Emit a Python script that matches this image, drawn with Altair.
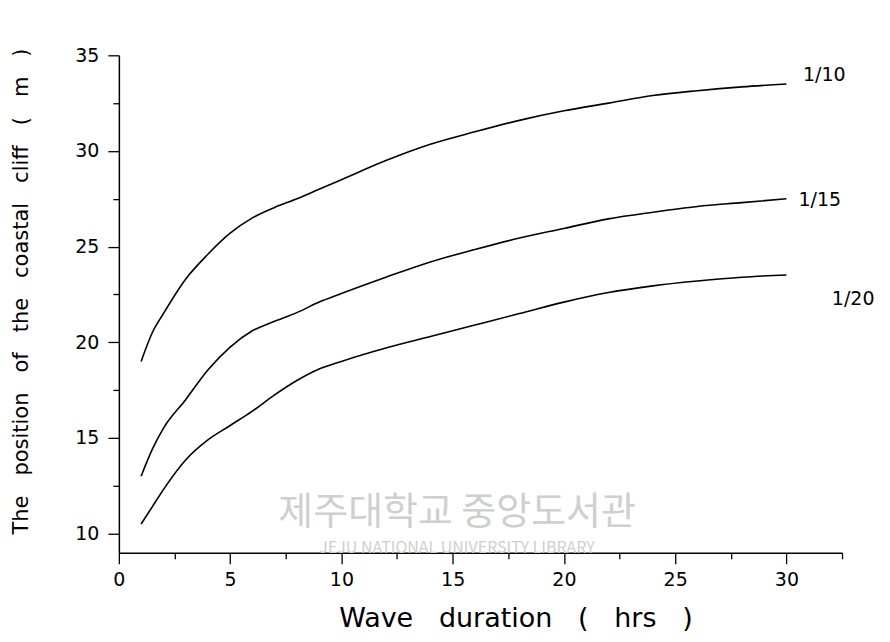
import altair as alt
import pandas as pd

# Wave duration (hrs)
hours = [1, 1.5, 2, 3, 4, 5, 6, 7, 8, 9, 10, 12, 14, 16, 18, 20, 22, 24, 26, 28, 30]
# Position of the coastal cliff (m) for each slope
slope_1_10 = [19.0, 20.5, 21.5, 23.3, 24.6, 25.7, 26.5, 27.05, 27.5, 28.0, 28.5,
              29.5, 30.35, 31.0, 31.6, 32.1, 32.5, 32.9, 33.15, 33.35, 33.5]
slope_1_15 = [13.0, 14.4, 15.5, 17.0, 18.55, 19.75, 20.6, 21.1, 21.55, 22.1, 22.55,
              23.4, 24.2, 24.85, 25.45, 25.95, 26.45, 26.8, 27.1, 27.3, 27.5]
slope_1_20 = [10.5, 11.4, 12.3, 13.85, 14.9, 15.65, 16.4, 17.25, 18.0, 18.6, 19.0,
              19.7, 20.3, 20.9, 21.5, 22.1, 22.6, 22.95, 23.2, 23.4, 23.52]

series_names = ["1/10", "1/15", "1/20"]
label_x = [31.7, 31.5, 33.0]
label_y = [33.95, 27.45, 22.25]

watermark_text = ["제주대학교 중앙도서관", "JEJU NATIONAL UNIVERSITY LIBRARY"]
watermark_x = [15.2, 15.2]
watermark_y = [11.1, 9.25]
watermark_size = [38, 16]

x_ticks = [i * 2.5 for i in range(14)]
y_ticks = [10 + i * 2.5 for i in range(11)]

NB = "\u00a0"
x_title = (NB * 3).join(["Wave", "duration", "(", "hrs", ")"])
y_title = (NB * 3).join(["The", "position", "of", "the", "coastal", "cliff", "(", "m", ")"])

rows = []
for name, vals in zip(series_names, [slope_1_10, slope_1_15, slope_1_20]):
    for h, v in zip(hours, vals):
        rows.append({"hrs": h, "pos": v, "slope": name})
df = pd.DataFrame(rows)
lab = pd.DataFrame({"hrs": label_x, "pos": label_y, "slope": series_names})
wm = pd.DataFrame({"hrs": watermark_x, "pos": watermark_y, "t": watermark_text, "s": watermark_size})

FONT = "DejaVu Sans"

xscale = alt.Scale(domain=[0, 32.5], nice=False, zero=False)
yscale = alt.Scale(domain=[9, 35], nice=False, zero=False)

tick_size = {"condition": {"test": "datum.value % 5 === 0", "value": 11}, "value": 6}

xaxis = alt.Axis(
    values=x_ticks,
    labelExpr="datum.value % 5 === 0 && datum.value <= 30 ? format(datum.value, 'd') : ''",
    tickSize=tick_size,
    labelPadding=7,
    labelFontSize=19,
    labelFont=FONT,
    labelFlush=False,
    labelOverlap=False,
    grid=False,
    title=x_title,
    titleFont=FONT,
    titleFontSize=27,
    titleFontWeight="normal",
    titleAnchor="start",
    titleAlign="center",
    titleX=397,
    titleY=74,
    titleBaseline="alphabetic",
)
yaxis = alt.Axis(
    values=y_ticks,
    labelExpr="datum.value % 5 === 0 ? format(datum.value, 'd') : ''",
    tickSize=tick_size,
    labelPadding=9,
    labelFontSize=19,
    labelFont=FONT,
    labelOverlap=False,
    grid=False,
    title=y_title,
    titleFont=FONT,
    titleFontSize=21,
    titleFontWeight="normal",
    titleAngle=-90,
    titleAlign="center",
    titleX=-91,
    titleY=236,
    titleBaseline="alphabetic",
)

watermark = alt.Chart(wm).mark_text(
    font="Noto Sans CJK KR", color="#cfcfcf", align="center", baseline="middle"
).encode(
    x=alt.X("hrs:Q", scale=xscale, axis=xaxis),
    y=alt.Y("pos:Q", scale=yscale, axis=yaxis),
    text="t:N",
    size=alt.Size("s:Q", scale=None, legend=None),
)

lines = alt.Chart(df).mark_line(
    color="black", strokeWidth=1.6, interpolate="monotone"
).encode(
    x=alt.X("hrs:Q", scale=xscale, axis=xaxis),
    y=alt.Y("pos:Q", scale=yscale, axis=yaxis),
    detail="slope:N",
)

labels = alt.Chart(lab).mark_text(
    font=FONT, fontSize=19, color="black", align="center", baseline="middle"
).encode(
    x=alt.X("hrs:Q", scale=xscale, axis=xaxis),
    y=alt.Y("pos:Q", scale=yscale, axis=yaxis),
    text="slope:N",
)

chart = alt.layer(watermark, lines, labels).properties(
    width=724,
    height=498,
    padding={"left": 111, "top": 47, "right": 40, "bottom": 80},
    autosize=alt.AutoSizeParams(type="none"),
).configure_axis(
    domainColor="black",
    domainWidth=1.5,
    tickColor="black",
    tickWidth=1.3,
    labelColor="black",
    titleColor="black",
).configure_view(stroke=None)

chart.save("out.html", embed_options={"renderer": "svg", "actions": False})
